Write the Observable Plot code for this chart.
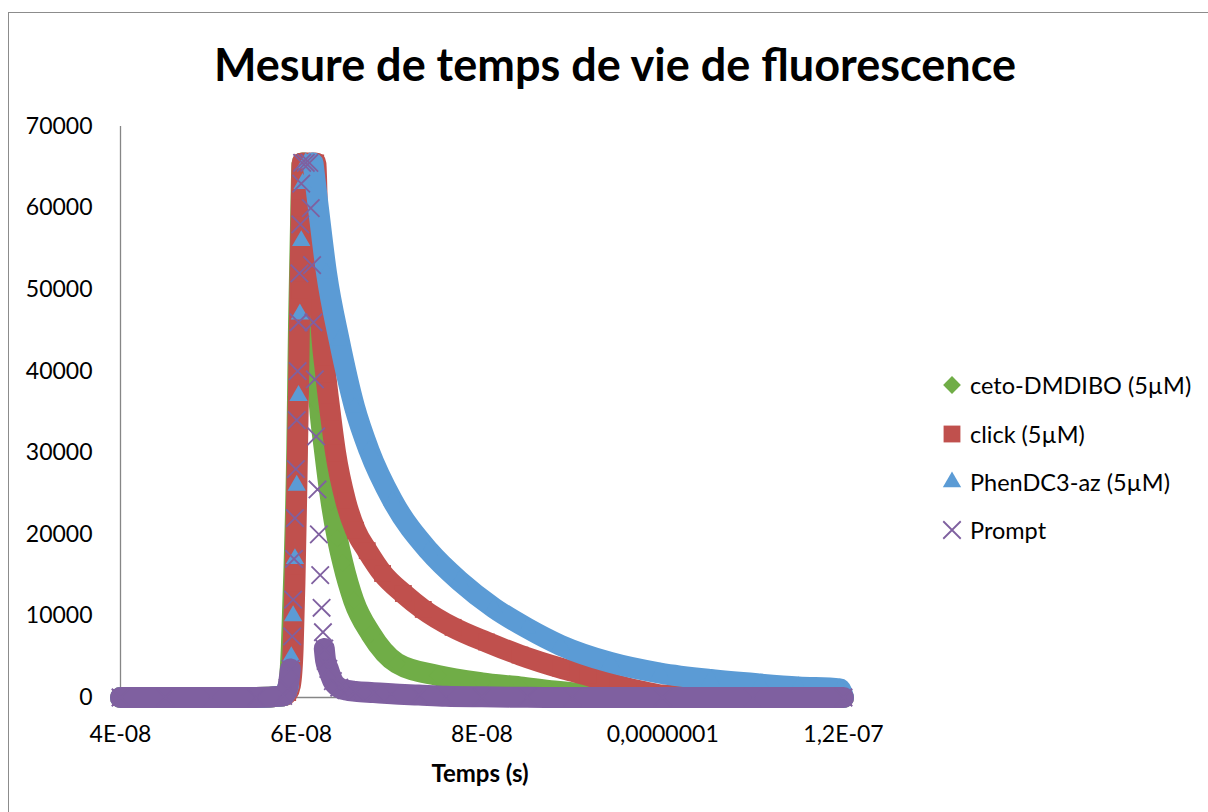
<!DOCTYPE html>
<html>
<head>
<meta charset="utf-8">
<script src="https://cdn.jsdelivr.net/npm/d3@7"></script>
<script src="https://cdn.jsdelivr.net/npm/@observablehq/plot@0.6"></script>
<style>
  html, body { margin: 0; padding: 0; background: #fff; }
  #wrap { position: relative; width: 1208px; height: 812px; overflow: hidden; font-family: Lato, "Open Sans", sans-serif; color: #000; }
  #frame { position: absolute; left: 8px; top: 12px; width: 1300px; height: 900px; border: 1.5px solid #8c8c8c; box-sizing: border-box; }
  #title { position: absolute; left: 0; width: 1230px; top: 37px; text-align: center; font-weight: bold; font-size: 45px; line-height: 54px; }
  #chart { position: absolute; left: 0; top: 100px; }
  #xlabel { position: absolute; left: 380px; width: 200px; top: 759px; text-align: center; font-weight: bold; font-size: 24px; line-height: 28px; }
  .row { position: absolute; left: 940px; height: 30px; display: flex; align-items: center; font-size: 23.5px; white-space: nowrap; }
  .row svg { margin-right: 6px; overflow: visible; }
</style>
</head>
<body>
<div id="wrap">
  <div id="frame"></div>
  <div id="title">Mesure de temps de vie de fluorescence</div>
  <div id="chart"></div>
  <div id="xlabel">Temps (s)</div>
</div>
<script>
// ---- data (time in ns, counts) ----
const seriesNames = ["ceto-DMDIBO (5µM)", "click (5µM)", "PhenDC3-az (5µM)", "Prompt"];

const greenT = [40, 45, 50, 55, 58.0, 58.6, 58.9, 59.2, 59.5, 59.7, 59.9, 60.1, 60.4, 60.7, 61.0, 61.5, 62.0, 62.6, 63.3, 64.0, 64.6, 65.8, 67.7, 70.6, 75.1, 80.0, 84.2, 88.0, 92.0, 96.0, 100, 110, 120];
const greenV = [0, 0, 0, 0, 200, 1500, 6000, 16000, 30000, 45800, 57000, 65535, 65535, 62000, 55000, 45000, 36000, 30000, 24000, 19500, 16500, 11900, 7800, 4200, 2700, 1800, 1300, 800, 400, 200, 0, 0, 0];

const redT = [40, 45, 50, 55, 58.0, 58.5, 58.8, 59.1, 59.3, 59.5, 59.7, 59.85, 60.0, 60.1, 60.5, 60.9, 61.3, 61.6, 61.85, 62.1, 62.7, 63.2, 63.8, 64.9, 66.0, 67.3, 69.0, 71.3, 73.5, 76.8, 80.5, 84.2, 88.7, 91.7, 95.0, 98.0, 100, 105, 110, 115, 120];
const redV = [0, 0, 0, 0, 200, 600, 1500, 6000, 14000, 25000, 38000, 50000, 60000, 65535, 65535, 65535, 65535, 65535, 57000, 47800, 39700, 35000, 30000, 24150, 20500, 18000, 15200, 12750, 10800, 8600, 6800, 5200, 3600, 2700, 1500, 700, 300, 100, 0, 0, 0];

const blueT = [40, 45, 50, 55, 58.0, 58.6, 58.9, 59.1, 59.3, 59.5, 59.7, 59.85, 60.0, 60.15, 60.5, 60.9, 61.3, 61.9, 62.8, 64.2, 65.9, 67.5, 70.1, 74.1, 77.5, 81.3, 85.0, 88.7, 94.2, 99.7, 105.3, 110.8, 115, 119.6, 120];
const blueV = [0, 0, 0, 0, 200, 1500, 5000, 10000, 17000, 26000, 37000, 47000, 56000, 63000, 65535, 65535, 65535, 60000, 52000, 43800, 35600, 30300, 24150, 18000, 14300, 11000, 8500, 6400, 4300, 3000, 2200, 1650, 1300, 1050, 0];

const promptT = [40, 45, 50, 55, 58.0, 58.5, 58.8, 59.0, 59.1, 59.2, 59.3, 59.4, 59.5, 59.6, 59.7, 59.8, 59.9, 60.0, 60.1, 60.5, 60.9, 61.05, 61.2, 61.35, 61.5, 61.65, 61.8, 61.95, 62.1, 62.25, 62.4, 62.55, 62.7, 63.0, 63.5, 64.2, 65, 66, 68, 70, 73, 76, 80, 85, 90, 100, 110, 120];
const promptV = [0, 0, 0, 0, 200, 1200, 3500, 7500, 12000, 17000, 22000, 28000, 34000, 40000, 46000, 52000, 58000, 63000, 65535, 65535, 65535, 60000, 53000, 46000, 39000, 32000, 25500, 20000, 15000, 11000, 8000, 6000, 4500, 3500, 2000, 1200, 900, 750, 600, 450, 300, 150, 80, 30, 0, 0, 0, 0];

const yTicks = [0, 10000, 20000, 30000, 40000, 50000, 60000, 70000];
const xTicks = [40, 60, 80, 100, 120];
const xTickLabels = ["4E-08", "6E-08", "8E-08", "0,0000001", "1,2E-07"];

// ---- styling per series ----
const series = [
  {name: seriesNames[0], T: greenT, V: greenV, color: "#70AD47", symbol: "diamond2", r: 8, stroked: false, gap: null},
  {name: seriesNames[1], T: redT, V: redV, color: "#C0504D", symbol: "square", r: 9.5, stroked: false, gap: null},
  {name: seriesNames[2], T: blueT, V: blueV, color: "#5B9BD5", symbol: "triangle", r: 6.8, stroked: false, gap: [58.6, 61.3]},
  {name: seriesNames[3], T: promptT, V: promptV, color: "#7F60A0", symbol: "times", r: 8, stroked: true, gap: [58.8, 62.55]}
];

const marks = [
  Plot.ruleY([0], {stroke: "#868686", strokeWidth: 1.3}),
  Plot.ruleX([40], {stroke: "#868686", strokeWidth: 1.3})
];
for (const s of series) {
  const rows = s.T.map((t, i) => ({t, v: s.V[i]}));
  const lineY = s.gap ? rows.map(d => (d.t > s.gap[0] && d.t < s.gap[1]) ? NaN : d.v) : rows.map(d => d.v);
  marks.push(Plot.line(rows, {x: "t", y: lineY, stroke: s.color, strokeWidth: 21, strokeLinecap: "round", strokeLinejoin: "round", curve: "monotone-x"}));
  marks.push(Plot.dot(rows, {
    x: "t", y: "v", symbol: s.symbol, r: s.r,
    fill: s.stroked ? "none" : s.color,
    stroke: s.stroked ? s.color : "none",
    strokeWidth: s.stroked ? 1.8 : 0
  }));
}
marks.push(Plot.axisY({ticks: yTicks, tickSize: 0, tickPadding: 28, fontSize: 23, tickFormat: d => String(d), label: null}));
marks.push(Plot.axisX({ticks: xTicks, tickSize: 0, tickPadding: 28, fontSize: 23, tickFormat: d => xTickLabels[xTicks.indexOf(d)], label: null}));

const chart = Plot.plot({
  width: 1208,
  height: 700,
  marginLeft: 120,
  marginRight: 365,
  marginTop: 26,
  marginBottom: 103,
  x: {domain: [40, 120]},
  y: {domain: [0, 70000]},
  style: {fontFamily: "Lato, 'Open Sans', sans-serif", color: "#000", background: "transparent", overflow: "visible"},
  marks
});
document.getElementById("chart").appendChild(chart);

// ---- legend ----
const symMap = {diamond2: d3.symbolDiamond2, square: d3.symbolSquare, triangle: d3.symbolTriangle, times: d3.symbolTimes};
const rowTops = [370, 419, 467, 515];
const wrap = document.getElementById("wrap");
series.forEach((s, i) => {
  const row = document.createElement("div");
  row.className = "row";
  row.style.top = rowTops[i] + "px";
  const path = d3.symbol(symMap[s.symbol], s.r * s.r * Math.PI)();
  const fill = s.stroked ? "none" : s.color;
  const stroke = s.stroked ? s.color : "none";
  row.innerHTML = `<svg width="24" height="24" viewBox="-12 -12 24 24"><path d="${path}" fill="${fill}" stroke="${stroke}" stroke-width="1.8"></path></svg><span>${s.name}</span>`;
  wrap.appendChild(row);
});
</script>
</body>
</html>
